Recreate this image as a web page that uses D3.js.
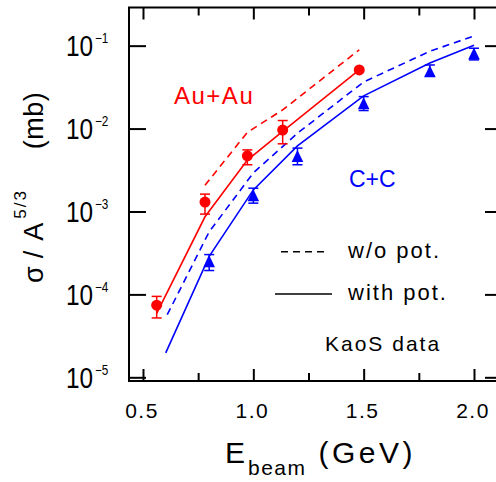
<!DOCTYPE html>
<html>
<head>
<meta charset="utf-8">
<script src="https://cdn.jsdelivr.net/npm/d3@7"></script>
<style>
  html, body { margin: 0; padding: 0; background: #fff; }
  svg { display: block; font-family: "Liberation Sans", Arial, sans-serif; }
</style>
</head>
<body>
<svg id="chart" width="496" height="482"></svg>
<script>
// Axis ticks
const xMajorTicks = [0.5, 1.0, 1.5, 2.0];
const xMajorLabels = ["0.5", "1.0", "1.5", "2.0"];
const xMinorTicks = [0.75, 1.25, 1.75];
const yTickExps = [-1, -2, -3, -4, -5];

// KaoS data, Au+Au (circles)
const auE = [0.562, 0.781, 0.973, 1.133, 1.48];
const auSigma = [7.4e-5, 1.30e-3, 4.69e-3, 9.6e-3, 5.1e-2];
const auLow = [5.2e-5, 9.3e-4, 3.66e-3, 6.55e-3, 5.1e-2];
const auHigh = [9.46e-5, 1.62e-3, 5.53e-3, 1.25e-2, 5.1e-2];

// KaoS data, C+C (triangles)
const ccE = [0.8, 1.0, 1.2, 1.5, 1.8, 2.0];
const ccSigma = [2.48e-4, 1.55e-3, 4.61e-3, 1.99e-2, 4.86e-2, 7.94e-2];
const ccLow = [1.94e-4, 1.26e-3, 3.66e-3, 1.65e-2, 4.32e-2, 6.73e-2];
const ccHigh = [3.02e-4, 1.91e-3, 5.81e-3, 2.43e-2, 5.85e-2, 9.31e-2];

// Model curves: with potential (solid) and without potential (dashed)
const auPotE = [0.562, 0.781, 0.973, 1.133, 1.48];
const auPotSigma = [5.89e-5, 8.63e-4, 4.17e-3, 9.23e-3, 5.1e-2];
const auNoPotE = [0.781, 0.973, 1.133, 1.48];
const auNoPotSigma = [2.07e-3, 9.02e-3, 1.68e-2, 8.91e-2];
const ccPotE = [0.603, 0.8, 1.0, 1.2, 1.5, 1.8, 2.0];
const ccPotSigma = [1.97e-5, 2.88e-4, 1.82e-3, 6.19e-3, 2.48e-2, 6.18e-2, 0.101];
const ccNoPotE = [0.61, 0.8, 1.0, 1.2, 1.5, 1.8, 2.0];
const ccNoPotSigma = [5.69e-5, 5.69e-4, 2.92e-3, 8.79e-3, 3.65e-2, 8.55e-2, 0.131];

const RED = "#ff0000", BLUE = "#0000ff";

const svg = d3.select("#chart");
const plotLeft = 129, plotRight = 502, plotTop = 7.5, plotBottom = 381;

const x = d3.scaleLinear().domain([0.4366, 2.1269]).range([plotLeft, plotRight]);
const y = d3.scaleLog().domain([Math.pow(10, -5.0446), Math.pow(10, -0.5398)]).range([plotBottom, plotTop]);

// Frame
svg.append("rect")
  .attr("x", plotLeft).attr("y", plotTop)
  .attr("width", plotRight - plotLeft).attr("height", plotBottom - plotTop)
  .attr("fill", "none").attr("stroke", "#000").attr("stroke-width", 2);

function styleAxis(g) {
  g.select(".domain").remove();
  g.selectAll(".tick line").attr("stroke", "#000").attr("stroke-width", 2);
}

// Bottom axis: major ticks with labels, minor ticks without
svg.append("g").attr("transform", `translate(0,${plotBottom})`)
  .call(d3.axisBottom(x).tickValues(xMajorTicks).tickSize(-12).tickFormat(() => ""))
  .call(styleAxis);
svg.append("g").attr("transform", `translate(0,${plotBottom})`)
  .call(d3.axisBottom(x).tickValues(xMinorTicks).tickSize(-8).tickFormat(() => ""))
  .call(styleAxis);
// Top axis
svg.append("g").attr("transform", `translate(0,${plotTop})`)
  .call(d3.axisTop(x).tickValues(xMajorTicks).tickSize(-12).tickFormat(() => ""))
  .call(styleAxis);
svg.append("g").attr("transform", `translate(0,${plotTop})`)
  .call(d3.axisTop(x).tickValues(xMinorTicks).tickSize(-8).tickFormat(() => ""))
  .call(styleAxis);

const yTickVals = yTickExps.map(e => Math.pow(10, e));
svg.append("g").attr("transform", `translate(${plotLeft},0)`)
  .call(d3.axisLeft(y).tickValues(yTickVals).tickSize(-17).tickFormat(() => ""))
  .call(styleAxis);
svg.append("g").attr("transform", `translate(${plotRight},0)`)
  .call(d3.axisRight(y).tickValues(yTickVals).tickSize(-17).tickFormat(() => ""))
  .call(styleAxis);

// X tick labels
xMajorTicks.forEach((v, i) => {
  svg.append("text")
    .attr("x", x(v) - 1).attr("y", 418)
    .attr("text-anchor", "middle")
    .style("font-size", "21px").style("letter-spacing", "1.5px")
    .text(xMajorLabels[i]);
});

// Y tick labels: 10 with superscript exponent
yTickExps.forEach(e => {
  const g = svg.append("g").attr("transform", `translate(93,${y(Math.pow(10, e))})`);
  g.append("text")
    .attr("transform", "scale(0.84,1)")
    .attr("text-anchor", "end").attr("y", 10.5)
    .style("font-size", "29px")
    .text("10");
  g.append("text")
    .attr("transform", "translate(2,-2.5) scale(0.84,1)")
    .style("font-size", "14px")
    .text("\u2212" + Math.abs(e));
});

// Axis titles
const xt = svg.append("text").attr("x", 225).attr("y", 463).style("font-size", "30px");
xt.append("tspan").text("E");
xt.append("tspan").attr("dy", 12).attr("dx", 3).style("font-size", "21px").style("letter-spacing", "1.5px").text("beam");
xt.append("tspan").attr("dy", -12).attr("dx", 12).style("letter-spacing", "3.5px").text("(GeV)");

const yt = svg.append("text")
  .attr("transform", "translate(43,283) rotate(-90)")
  .style("font-size", "27px");
yt.append("tspan").text("\u03c3");
yt.append("tspan").attr("dx", 8).text("/");
yt.append("tspan").attr("dx", 10).text("A");
yt.append("tspan").attr("dy", -17).attr("dx", 4).style("font-size", "17px").style("letter-spacing", "2px").text("5/3");
yt.append("tspan").attr("dy", 17).attr("dx", 40).style("letter-spacing", "0.5px").text("(mb)");

// Model curves
const line = d3.line().x(d => x(d[0])).y(d => y(d[1]));
function curve(es, vs, color, dashed) {
  svg.append("path")
    .datum(es.map((e, i) => [e, vs[i]]))
    .attr("d", line)
    .attr("fill", "none")
    .attr("stroke", color)
    .attr("stroke-width", 1.6)
    .attr("stroke-dasharray", dashed ? "7,5" : null);
}
curve(auNoPotE, auNoPotSigma, RED, true);
curve(auPotE, auPotSigma, RED, false);
curve(ccNoPotE, ccNoPotSigma, BLUE, true);
curve(ccPotE, ccPotSigma, BLUE, false);

// Error bars
function errorBars(es, lo, hi, color) {
  es.forEach((e, i) => {
    if (lo[i] === hi[i]) return;
    const cx = x(e), y0 = y(lo[i]), y1 = y(hi[i]);
    const g = svg.append("g").attr("stroke", color).attr("stroke-width", 1.5);
    g.append("line").attr("x1", cx).attr("x2", cx).attr("y1", y0).attr("y2", y1);
    g.append("line").attr("x1", cx - 5).attr("x2", cx + 5).attr("y1", y0).attr("y2", y0);
    g.append("line").attr("x1", cx - 5).attr("x2", cx + 5).attr("y1", y1).attr("y2", y1);
  });
}
errorBars(auE, auLow, auHigh, RED);
errorBars(ccE, ccLow, ccHigh, BLUE);

// Data markers
svg.append("g").selectAll("circle")
  .data(auE.map((e, i) => [e, auSigma[i]]))
  .join("circle")
  .attr("cx", d => x(d[0])).attr("cy", d => y(d[1]))
  .attr("r", 5.5).attr("fill", RED);

svg.append("g").selectAll("path")
  .data(ccE.map((e, i) => [e, ccSigma[i]]))
  .join("path")
  .attr("transform", d => `translate(${x(d[0])},${y(d[1])})`)
  .attr("d", "M0,-6.5L5.8,5.5L-5.8,5.5Z")
  .attr("fill", BLUE);

// Reaction labels
svg.append("text").attr("x", 174).attr("y", 104)
  .style("font-size", "24px").style("letter-spacing", "1.5px")
  .attr("fill", RED).text("Au+Au");
svg.append("text").attr("x", 349).attr("y", 187)
  .style("font-size", "23px")
  .attr("fill", BLUE).text("C+C");

// Legend
svg.append("line").attr("x1", 281).attr("x2", 329).attr("y1", 251.7).attr("y2", 251.7)
  .attr("stroke", "#000").attr("stroke-width", 1.4).attr("stroke-dasharray", "7,5");
svg.append("line").attr("x1", 275).attr("x2", 332).attr("y1", 294).attr("y2", 294)
  .attr("stroke", "#000").attr("stroke-width", 1.4);
svg.append("text").attr("x", 348).attr("y", 258)
  .style("font-size", "22px").style("letter-spacing", "2px").text("w/o pot.");
svg.append("text").attr("x", 348).attr("y", 300)
  .style("font-size", "22px").style("letter-spacing", "2px").text("with pot.");
svg.append("text").attr("x", 325).attr("y", 351)
  .style("font-size", "21px").style("letter-spacing", "2px").text("KaoS data");
</script>
</body>
</html>
